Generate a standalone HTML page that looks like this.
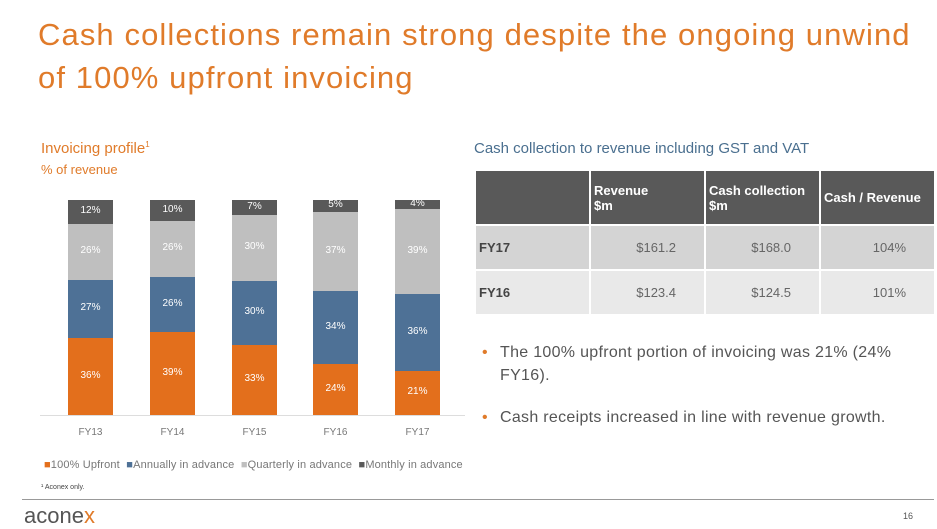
<!DOCTYPE html>
<html><head><style>
body{margin:0;width:937px;height:527px;background:#fff;position:relative;overflow:hidden;font-family:"Liberation Sans",sans-serif}
.a{position:absolute}
.t{color:#e07b2a;font-size:31px;line-height:43px;left:38px;top:13px;letter-spacing:1.1px;white-space:nowrap}
.bar{position:absolute;width:45px}
.lbl{position:absolute;width:45px;text-align:center;font-size:10px;color:#fff}
.x{position:absolute;width:45px;text-align:center;font-size:10px;color:#777;top:427px}
td{padding:0 0 0 3px;font-size:13px;color:#666}
</style></head><body>
<div class="a t">Cash collections remain strong despite the ongoing unwind<br>of 100% upfront invoicing</div>
<div class="a" style="left:41px;top:140px;font-size:15px;color:#e07b2a">Invoicing profile<sup style="font-size:8px">1</sup></div>
<div class="a" style="left:41px;top:162px;font-size:13px;color:#e07b2a">% of revenue</div>
<div class="a" style="left:474px;top:140px;font-size:15px;color:#4a6f8f">Cash collection to revenue including GST and VAT</div>

<div class="a" style="left:40px;top:415px;width:425px;height:1px;background:#ddd"></div>
<div id="bars"></div>
<script>
var xs=[68,150,232,313,395],c=['#595959','#bfbfbf','#4e7196','#e36f1c'],
b=[[200,224,280,338],[200,221,277,332],[200,215,281,345],[200,212,291,364],[200,209,294,371]],
v=[['12%','26%','27%','36%'],['10%','26%','26%','39%'],['7%','30%','30%','33%'],['5%','37%','34%','24%'],['4%','39%','36%','21%']],
n=['FY13','FY14','FY15','FY16','FY17'],h='';
for(var i=0;i<5;i++){var y=b[i].concat([415]);for(var j=0;j<4;j++){h+='<div class="bar" style="left:'+xs[i]+'px;top:'+y[j]+'px;height:'+(y[j+1]-y[j])+'px;background:'+c[j]+'"></div>';h+='<div class="lbl" style="left:'+xs[i]+'px;top:'+((y[j]+y[j+1])/2-7)+'px">'+v[i][j]+'</div>';}
h+='<div class="x" style="left:'+xs[i]+'px">'+n[i]+'</div>';}
document.getElementById('bars').innerHTML=h;
</script>
<div class="a" style="left:44px;top:459px;font-size:11px;color:#777;white-space:nowrap;letter-spacing:0.15px">
<span style="color:#e36f1c">■</span>100% Upfront &nbsp;<span style="color:#4e7196">■</span>Annually in advance &nbsp;<span style="color:#bfbfbf">■</span>Quarterly in advance &nbsp;<span style="color:#595959">■</span>Monthly in advance</div>
<div class="a" style="left:41px;top:484px;font-size:7px;color:#444">¹ Aconex only.</div>

<table class="a" style="left:474px;top:169px;border-collapse:separate;border-spacing:2px 2px;width:462px">
<tr style="background:#595959;height:53px"><td style="width:110px"></td><td style="color:#fff;font-weight:bold;width:110px">Revenue<br>$m</td><td style="color:#fff;font-weight:bold;width:110px">Cash collection<br>$m</td><td style="color:#fff;font-weight:bold">Cash / Revenue</td></tr>
<tr style="background:#d4d4d4;height:43px"><td style="font-weight:bold;color:#444">FY17</td><td style="text-align:right;padding-right:28px">$161.2</td><td style="text-align:right;padding-right:28px">$168.0</td><td style="text-align:right;padding-right:28px">104%</td></tr>
<tr style="background:#e9e9e9;height:43px"><td style="font-weight:bold;color:#444">FY16</td><td style="text-align:right;padding-right:28px">$123.4</td><td style="text-align:right;padding-right:28px">$124.5</td><td style="text-align:right;padding-right:28px">101%</td></tr>
</table>
<div class="a" style="left:482px;top:341px;font-size:16px;color:#555;line-height:23px;white-space:nowrap;letter-spacing:0.3px">
<div style="position:relative;padding-left:18px"><span style="position:absolute;left:0;color:#e07b2a">•</span>The 100% upfront portion of invoicing was 21% (24%<br>FY16).</div>
<div style="position:relative;padding-left:18px;margin-top:19px"><span style="position:absolute;left:0;color:#e07b2a">•</span>Cash receipts increased in line with revenue growth.</div>
</div>
<div class="a" style="left:22px;top:499px;width:912px;height:1px;background:#999"></div>
<div class="a" style="left:24px;top:503px;font-size:22px;color:#555">acone<span style="color:#e07b2a">x</span></div>
<div class="a" style="left:903px;top:511px;font-size:9px;color:#555">16</div>
</body></html>
